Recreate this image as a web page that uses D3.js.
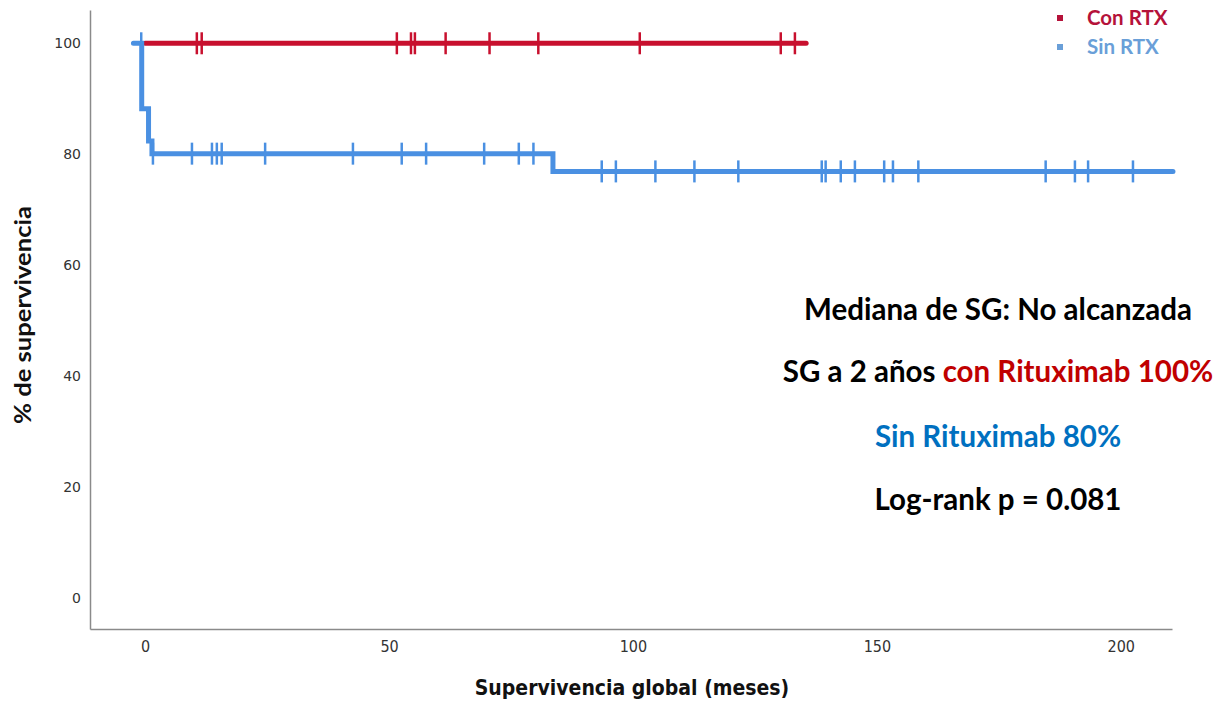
<!DOCTYPE html>
<html lang="es">
<head>
    <meta charset="UTF-8">
    <title>Supervivencia global</title>
    <script type="text/javascript" src="https://cdn.jsdelivr.net/npm/d3@7"></script>
    <style>
        body { margin: 0; background: #fff; }
    </style>
</head>
<body>
<script type="text/javascript">
    var w = 1221;
    var h = 704;

    // curvas Kaplan-Meier: [tiempo (meses), % supervivencia]
    var redSteps = [[0, 100]];
    var redEnd = 135.5;
    var redCensor = [10.6, 11.6, 51.6, 54.5, 55.3, 61.6, 70.6, 80.6, 101.4, 130.3, 133.2];

    var blueSteps = [[-2.4, 100], [-0.7, 88.2], [0.7, 82.4], [1.4, 80.1], [83.6, 76.9]];
    var blueEnd = 210.7;
    var blueCensor = [-0.8, 1.6, 9.6, 13.7, 14.7, 15.7, 24.6, 42.6, 52.6, 57.6, 69.5, 76.6, 79.6,
        93.6, 96.5, 104.6, 112.6, 121.6, 138.7, 139.5, 142.6, 145.5, 151.5, 153.3, 158.5,
        184.6, 190.6, 193.3, 202.5];

    var xTicks = [0, 50, 100, 150, 200];
    var yTicks = [0, 20, 40, 60, 80, 100];

    var legendNames = ["Con RTX", "Sin RTX"];
    var red = "#c8102e";
    var blue = "#4a90e2";

    var svg = d3.select("body")
        .append("svg")
        .attr("width", w)
        .attr("height", h);

    var xScale = d3.scaleLinear()
        .domain([-11.3, 210.5])
        .range([90, 1172]);

    var yScale = d3.scaleLinear()
        .domain([-5.6, 106])
        .range([629, 10]);

    // ejes
    var xAxis = d3.axisBottom(xScale).tickValues(xTicks).tickSize(0).tickPadding(12);
    var yAxis = d3.axisLeft(yScale).tickValues(yTicks).tickSize(0).tickPadding(9);

    var gx = svg.append("g")
        .attr("transform", "translate(0," + 629 + ")")
        .call(xAxis);
    var gy = svg.append("g")
        .attr("transform", "translate(" + 90 + ",0)")
        .call(yAxis);

    [gx, gy].forEach(function (g) {
        g.select(".domain").attr("stroke", "#8a8a8a").attr("stroke-width", 1.5);
    });
    gx.selectAll("text")
        .attr("font-family", "DejaVu Sans Condensed, DejaVu Sans, sans-serif")
        .attr("font-size", "16px")
        .attr("fill", "#333");
    gy.selectAll("text")
        .attr("font-family", "DejaVu Sans, sans-serif")
        .attr("font-size", "14px")
        .attr("fill", "#333");

    svg.append("text")
        .text("Supervivencia global (meses)")
        .attr("x", 632)
        .attr("y", 695)
        .attr("text-anchor", "middle")
        .attr("font-family", "DejaVu Sans Condensed, DejaVu Sans, sans-serif")
        .attr("font-weight", "bold")
        .attr("font-size", "21px")
        .attr("fill", "#111");

    svg.append("text")
        .text("% de supervivencia")
        .attr("transform", "translate(31,315) rotate(-90)")
        .attr("text-anchor", "middle")
        .attr("font-family", "Lato, sans-serif")
        .attr("font-weight", "bold")
        .attr("font-size", "22px")
        .attr("textLength", 218)
        .attr("lengthAdjust", "spacingAndGlyphs")
        .attr("fill", "#111");

    // funciones para las curvas
    function survAt(steps, t) {
        var s = steps[0][1];
        steps.forEach(function (d) {
            if (d[0] <= t) s = d[1];
        });
        return s;
    }

    function stepPoints(steps, end) {
        var pts = steps.slice();
        pts.push([end, steps[steps.length - 1][1]]);
        return pts;
    }

    var line = d3.line()
        .x(function (d) { return xScale(d[0]); })
        .y(function (d) { return yScale(d[1]); })
        .curve(d3.curveStepAfter);

    function drawCurve(steps, end, censor, color) {
        svg.append("path")
            .datum(stepPoints(steps, end))
            .attr("d", line)
            .attr("fill", "none")
            .attr("stroke", color)
            .attr("stroke-width", 5)
            .attr("stroke-linecap", "round");

        svg.selectAll(null)
            .data(censor).enter()
            .append("line")
            .attr("x1", function (d) { return xScale(d); })
            .attr("x2", function (d) { return xScale(d); })
            .attr("y1", function (d) { return yScale(survAt(steps, d)) - 11; })
            .attr("y2", function (d) { return yScale(survAt(steps, d)) + 11; })
            .attr("stroke", color)
            .attr("stroke-width", 2.5);
    }

    drawCurve(redSteps, redEnd, redCensor, red);
    drawCurve(blueSteps, blueEnd, blueCensor, blue);

    // leyenda
    var legend = svg.selectAll(".legend")
        .data(legendNames).enter()
        .append("g")
        .attr("transform", function (d, i) { return "translate(1060," + (18 + i * 29) + ")"; });

    legend.append("rect")
        .attr("x", -3).attr("y", -3)
        .attr("width", 6).attr("height", 6)
        .attr("fill", function (d, i) { return i === 0 ? "#b5123a" : "#6a9fd8"; });

    legend.append("text")
        .text(function (d) { return d; })
        .attr("x", 27)
        .attr("y", 7)
        .attr("font-family", "Lato, sans-serif")
        .attr("font-weight", "bold")
        .attr("font-size", "20.5px")
        .attr("fill", function (d, i) { return i === 0 ? "#b5123a" : "#6a9fd8"; });

    // anotaciones
    var notes = svg.append("g")
        .attr("font-family", "Lato, sans-serif")
        .attr("font-weight", "bold")
        .attr("font-size", "29.5px")
        .attr("text-anchor", "middle");

    notes.append("text").attr("x", 998).attr("y", 320)
        .attr("fill", "#000").text("Mediana de SG: No alcanzada");

    var l2 = notes.append("text").attr("x", 998).attr("y", 382);
    l2.append("tspan").attr("fill", "#000").text("SG a 2 años ");
    l2.append("tspan").attr("fill", "#c00000").text("con Rituximab 100%");

    notes.append("text").attr("x", 998).attr("y", 447)
        .attr("fill", "#0070c0").text("Sin Rituximab 80%");

    notes.append("text").attr("x", 998).attr("y", 510)
        .attr("fill", "#000").text("Log-rank p = 0.081");
</script>
</body>
</html>
